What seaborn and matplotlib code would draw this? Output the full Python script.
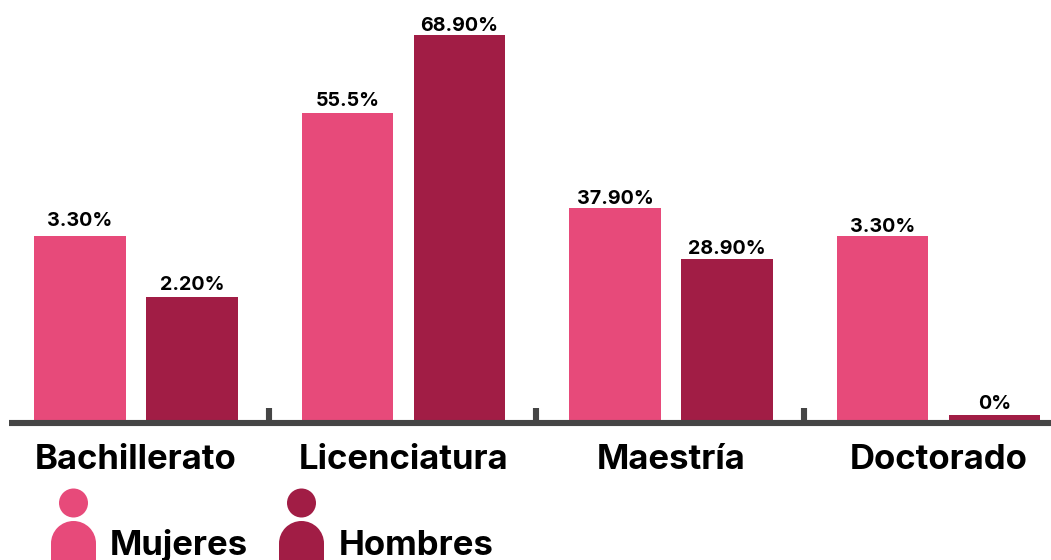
import pandas as pd
import matplotlib
matplotlib.use("Agg")
import matplotlib.pyplot as plt
import matplotlib.patches as mpatches
import seaborn as sns

niveles = ["Bachillerato", "Licenciatura", "Maestría", "Doctorado"]
# bar heights as drawn in the picture (they do not always agree with the printed labels)
mujeres = [32.9, 54.8, 37.8, 32.9]
hombres = [22.0, 68.8, 28.8, 0.9]
labels_mujeres = ["3.30%", "55.5%", "37.90%", "3.30%"]
labels_hombres = ["2.20%", "68.90%", "28.90%", "0%"]
separadores = [0.497, 1.497, 2.497]

# the labels do not sit at the same distance above every bar
pad_mujeres = [4.1, 2, 0, 0]
pad_hombres = [2, 0, 0.5, 1.2]

ROSA = "#E74A7A"
VINO = "#A11D45"
GRIS = "#454545"
FUENTE = "Inter"

W, H = 1051, 560

df = pd.DataFrame({
    "nivel": niveles * 2,
    "sexo": ["Mujeres"] * 4 + ["Hombres"] * 4,
    "valor": mujeres + hombres,
})

sns.set_theme(style="white")
plt.rcParams["font.family"] = [FUENTE, "DejaVu Sans"]

fig = plt.figure(figsize=(W / 100, H / 100), dpi=100)
ax = fig.add_axes([0, (H - 420) / H, 1, 420 / H])
sns.barplot(data=df, x="nivel", y="valor", hue="sexo", palette=[ROSA, VINO],
            width=0.837, gap=0.179, saturation=1, legend=False, linewidth=0, ax=ax)

ax.set_xlim(-136 / 267.5, (W - 136) / 267.5)
ax.set_ylim(0, 75)
ax.set_xlabel("")
ax.set_ylabel("")
ax.set_yticks([])
ax.patch.set_alpha(0)

for cont, labs, pads in zip(ax.containers, [labels_mujeres, labels_hombres], [pad_mujeres, pad_hombres]):
    anns = ax.bar_label(cont, labels=labs, fontsize=14.2, fontweight="bold", color="black")
    for a, p in zip(anns, pads):
        a.xyann = (0, p)

for s in ["top", "left", "right"]:
    ax.spines[s].set_visible(False)
ax.spines["bottom"].set_position(("outward", 2.2))
ax.spines["bottom"].set_linewidth(4.4)
ax.spines["bottom"].set_color(GRIS)
ax.spines["bottom"].set_capstyle("butt")
ax.spines["bottom"].set_bounds((9 - 136) / 267.5, (W - 136) / 267.5)

ax.tick_params(axis="x", which="major", length=0, pad=15, labelsize=25, labelcolor="black")
for t in ax.get_xticklabels():
    t.set_fontweight("bold")
ax.set_xticks(separadores, minor=True)
ax.tick_params(axis="x", which="minor", bottom=True, direction="in", length=11, width=4.4, color=GRIS)

# legend with the little person icons, in pixel coordinates
leg = fig.add_axes([0, 0, 1, 1])
leg.set_xlim(0, W)
leg.set_ylim(H, 0)
leg.axis("off")
for x0, color, nombre, xt in [(73.5, ROSA, "Mujeres", 110), (301.5, VINO, "Hombres", 339)]:
    leg.add_patch(mpatches.Circle((x0, 503), 14.5, color=color, lw=0))
    leg.add_patch(mpatches.Circle((x0, 543.5), 22.5, color=color, lw=0))
    leg.add_patch(mpatches.Rectangle((x0 - 22.5, 543.5), 45, 20, color=color, lw=0))
    leg.text(xt, 555, nombre, fontsize=25, fontweight="bold", color="black", va="baseline", ha="left")

fig.savefig("out.png", dpi=100)
